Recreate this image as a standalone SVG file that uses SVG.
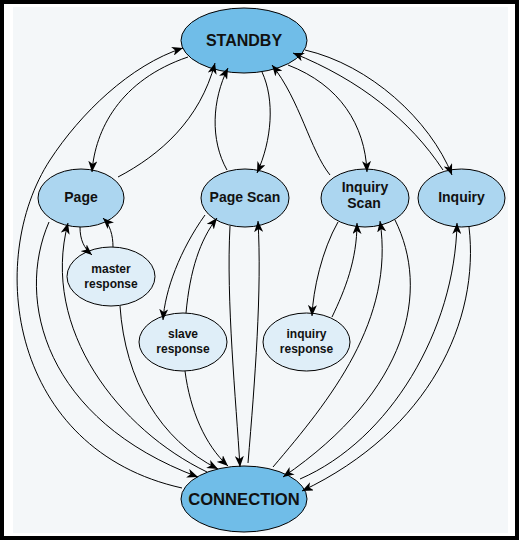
<svg xmlns="http://www.w3.org/2000/svg" width="519" height="541" viewBox="0 0 519 541">
<style>
.big{fill:#70bde8;stroke:#000;stroke-width:1}
.mid{fill:#acd6f0;stroke:#000;stroke-width:1}
.small{fill:#dfeef8;stroke:#000;stroke-width:1}
text{font-family:"Liberation Sans",Arial,sans-serif;font-weight:bold;text-anchor:middle;fill:#111}
.t16{font-size:16px}
.t14{font-size:14px}
.t12{font-size:12px}
.e{fill:none;stroke:#000;stroke-width:1;marker-end:url(#ah)}
</style>
<defs>
<marker id="ah" markerUnits="userSpaceOnUse" markerWidth="12" markerHeight="9" refX="11" refY="4.5" orient="auto" viewBox="0 0 12 9">
<path d="M0,0 L11,4.5 L0,9 L3,4.5 z" fill="#000"/>
</marker>
</defs>
<rect x="2" y="2" width="515" height="536" fill="#fff" stroke="#000" stroke-width="4"/>
<rect x="13" y="7" width="495" height="526" fill="#f4f7f9"/>

<g id="standby"><ellipse class="big" cx="244" cy="40.5" rx="63" ry="32.5"/><text class="t16" x="244" y="46">STANDBY</text></g>
<g id="connection"><ellipse class="big" cx="244" cy="499" rx="63" ry="33"/><text class="t16" x="244" y="505" style="font-size:16.6px">CONNECTION</text></g>
<g id="page"><ellipse class="mid" cx="81" cy="198" rx="43" ry="29"/><text class="t14" x="81" y="202">Page</text></g>
<g id="pagescan"><ellipse class="mid" cx="245" cy="198" rx="44" ry="29"/><text class="t14" x="245" y="202">Page Scan</text></g>
<g id="inquiryscan"><ellipse class="mid" cx="365" cy="198" rx="44" ry="29"/><text class="t14" x="365" y="192">Inquiry</text><text class="t14" x="364" y="208">Scan</text></g>
<g id="inquiry"><ellipse class="mid" cx="461.5" cy="198" rx="43.5" ry="29"/><text class="t14" x="461.5" y="202">Inquiry</text></g>
<g id="masterresponse"><ellipse class="small" cx="111" cy="276.5" rx="44" ry="29.5"/><text class="t12" x="111" y="273">master</text><text class="t12" x="111" y="288">response</text></g>
<g id="slaveresponse"><ellipse class="small" cx="183" cy="342" rx="44" ry="29"/><text class="t12" x="183" y="338">slave</text><text class="t12" x="183" y="353">response</text></g>
<g id="inquiryresponse"><ellipse class="small" cx="306.5" cy="342" rx="43.5" ry="29"/><text class="t12" x="306.5" y="338">inquiry</text><text class="t12" x="306.5" y="353">response</text></g>

<g id="connectors">
<path class="e" d="M182,488 C10,450 -15,260 50,160 C80,114 130,65 183,48"/>
<path class="e" d="M188,57 C120,80 95,130 92,172"/>
<path class="e" d="M118,177 C160,155 200,120 215,63"/>
<path class="e" d="M227,170 C210,140 212,100 228,68"/>
<path class="e" d="M262,72 C275,100 272,140 257,173"/>
<path class="e" d="M330,175 C310,150 300,100 272,65"/>
<path class="e" d="M288,65 C340,85 365,125 367,172"/>
<path class="e" d="M443,170 C410,120 360,80 293,53"/>
<path class="e" d="M305,50 C370,65 430,120 452,175"/>
<path class="e" d="M80,227 C80,240 84,248 92,255"/>
<path class="e" d="M113,247 C113,235 110,225 103,218"/>
<path class="e" d="M49,222 C15,300 45,420 198,477"/>
<path class="e" d="M207,472 C120,430 40,330 68,223"/>
<path class="e" d="M120,306 C125,380 160,440 218,469"/>
<path class="e" d="M205,215 C180,250 165,290 163,320"/>
<path class="e" d="M186,313 C190,270 200,240 217,218"/>
<path class="e" d="M185,371 C190,410 205,445 228,466"/>
<path class="e" d="M230,226 C226,300 236,400 240,467"/>
<path class="e" d="M248,463 C255,380 262,290 258,221"/>
<path class="e" d="M338,222 C322,250 313,290 312,316"/>
<path class="e" d="M332,317 C345,290 357,260 357,223"/>
<path class="e" d="M273,467 C330,400 395,320 380,221"/>
<path class="e" d="M395,220 C430,290 410,390 283,477"/>
<path class="e" d="M300,479 C390,440 455,330 457,223"/>
<path class="e" d="M469,227 C480,320 430,430 302,491"/>
</g>
</svg>
